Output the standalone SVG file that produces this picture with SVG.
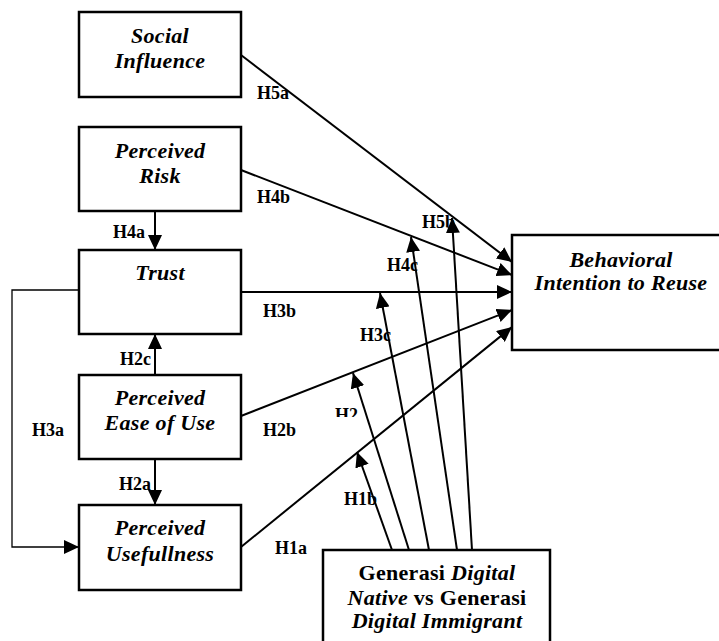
<svg xmlns="http://www.w3.org/2000/svg" width="719" height="641" viewBox="0 0 719 641">
<style>
.box{fill:#fff;stroke:#000;stroke-width:2.5}
.nt{font-family:"Liberation Serif",serif;font-weight:bold;font-style:italic;font-size:22px;letter-spacing:0.3px;text-anchor:middle;fill:#000}
.up{font-style:normal}
.lb{font-family:"Liberation Serif",serif;font-weight:bold;font-size:18px;fill:#000}
.cn{fill:none;stroke:#000;stroke-width:2}
.thin{fill:none;stroke:#000;stroke-width:1.3}
</style>
<defs>
<marker id="ah" markerUnits="userSpaceOnUse" markerWidth="16" markerHeight="14" refX="15" refY="7" orient="auto">
<path d="M0,0 L15,7 L0,14 z" fill="#000"/>
</marker>
<clipPath id="clipH2"><rect x="320" y="395" width="60" height="22"/></clipPath>
</defs>
<rect width="719" height="641" fill="#fff"/>

<g id="social-influence">
<rect class="box" x="79" y="12" width="162" height="85"/>
<text class="nt" x="160" y="43">Social</text>
<text class="nt" x="160" y="68">Influence</text>
</g>
<g id="perceived-risk">
<rect class="box" x="79" y="127" width="162" height="84"/>
<text class="nt" x="160" y="158">Perceived</text>
<text class="nt" x="160" y="183">Risk</text>
</g>
<g id="trust">
<rect class="box" x="79" y="250" width="162" height="84"/>
<text class="nt" x="160" y="280">Trust</text>
</g>
<g id="perceived-ease-of-use">
<rect class="box" x="79" y="375" width="162" height="84"/>
<text class="nt" x="160" y="405">Perceived</text>
<text class="nt" x="160" y="430">Ease of Use</text>
</g>
<g id="perceived-usefullness">
<rect class="box" x="79" y="505" width="162" height="85"/>
<text class="nt" x="160" y="535">Perceived</text>
<text class="nt" x="160" y="561">Usefullness</text>
</g>
<g id="behavioral-intention">
<rect class="box" x="512" y="235" width="212" height="115"/>
<text class="nt" x="621" y="267">Behavioral</text>
<text class="nt" x="621" y="290">Intention to Reuse</text>
</g>
<g id="generasi">
<rect class="box" x="323" y="550" width="227" height="100"/>
<text class="nt" x="437" y="580"><tspan class="up">Generasi </tspan>Digital</text>
<text class="nt" x="437" y="605">Native<tspan class="up"> vs Generasi</tspan></text>
<text class="nt" x="437" y="628">Digital Immigrant</text>
</g>

<g id="labels">
<text class="lb" x="257" y="99">H5a</text>
<text class="lb" x="257" y="203">H4b</text>
<text class="lb" x="113" y="238">H4a</text>
<text class="lb" x="263" y="317">H3b</text>
<text class="lb" x="120" y="365">H2c</text>
<text class="lb" x="32" y="436">H3a</text>
<text class="lb" x="263" y="436">H2b</text>
<text class="lb" x="119" y="490">H2a</text>
<text class="lb" x="275" y="554">H1a</text>
<text class="lb" x="344" y="505">H1b</text>
<text class="lb" x="335" y="421" clip-path="url(#clipH2)">H2</text>
<text class="lb" x="360" y="341">H3c</text>
<text class="lb" x="387" y="271">H4c</text>
<text class="lb" x="422" y="228">H5b</text>
</g>

<g id="connectors">
<path class="cn" d="M241,55 L512,262" marker-end="url(#ah)"/>
<path class="cn" d="M241,170 L512,275" marker-end="url(#ah)"/>
<path class="cn" d="M241,292 L512,292" marker-end="url(#ah)"/>
<path class="cn" d="M241,416 L512,310" marker-end="url(#ah)"/>
<path class="cn" d="M241,547 L512,327" marker-end="url(#ah)"/>
<path class="cn" d="M155,211 L155,250" marker-end="url(#ah)"/>
<path class="cn" d="M155,375 L155,334" marker-end="url(#ah)"/>
<path class="cn" d="M155,459 L155,505" marker-end="url(#ah)"/>
<path class="thin" d="M79,290 L12,290 L12,547 L79,547" marker-end="url(#ah)"/>
<path class="cn" d="M392,550 L357,452" marker-end="url(#ah)"/>
<path class="cn" d="M409,550 L353,373" marker-end="url(#ah)"/>
<path class="cn" d="M429,550 L380,293" marker-end="url(#ah)"/>
<path class="cn" d="M457,550 L411,237" marker-end="url(#ah)"/>
<path class="cn" d="M472,550 L452,218" marker-end="url(#ah)"/>
</g>
</svg>
